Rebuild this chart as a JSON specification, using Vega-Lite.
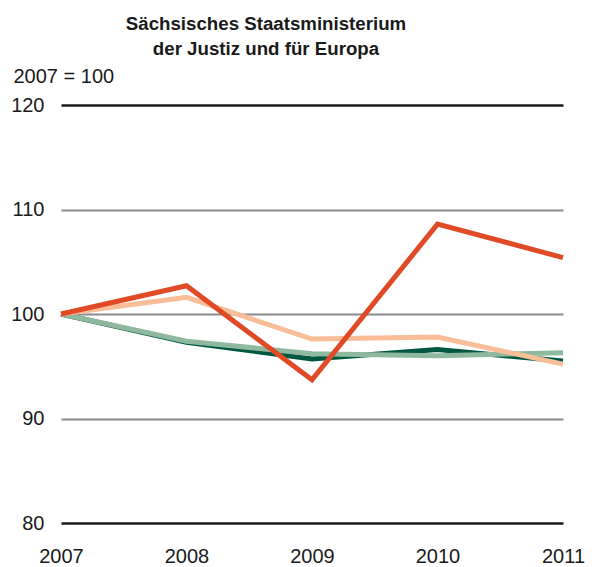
{
  "$schema": "https://vega.github.io/schema/vega-lite/v6.json",
  "width": 502,
  "height": 418,
  "autosize": {"type": "none"},
  "padding": {"left": 61, "top": 105, "right": 35, "bottom": 44},
  "background": "white",
  "config": {"view": {"stroke": null}, "font": "Liberation Sans"},
  "title": {
    "text": ["Sächsisches Staatsministerium", "der Justiz und für Europa"],
    "anchor": "middle",
    "frame": "group",
    "dx": -46,
    "offset": 7,
    "fontSize": 18.7,
    "fontWeight": "bold",
    "color": "#1a1a1a",
    "lineHeight": 25,
    "font": "Liberation Sans"
  },
  "data": {
    "values": [
      {"year": 2007, "series": "A", "value": 100},
      {"year": 2008, "series": "A", "value": 97.3},
      {"year": 2009, "series": "A", "value": 95.7},
      {"year": 2010, "series": "A", "value": 96.6},
      {"year": 2011, "series": "A", "value": 95.5},
      {"year": 2007, "series": "B", "value": 100},
      {"year": 2008, "series": "B", "value": 97.4},
      {"year": 2009, "series": "B", "value": 96.2},
      {"year": 2010, "series": "B", "value": 96.0},
      {"year": 2011, "series": "B", "value": 96.3},
      {"year": 2007, "series": "C", "value": 100},
      {"year": 2008, "series": "C", "value": 101.6},
      {"year": 2009, "series": "C", "value": 97.6},
      {"year": 2010, "series": "C", "value": 97.8},
      {"year": 2011, "series": "C", "value": 95.2},
      {"year": 2007, "series": "D", "value": 100},
      {"year": 2008, "series": "D", "value": 102.7},
      {"year": 2009, "series": "D", "value": 93.7},
      {"year": 2010, "series": "D", "value": 108.6},
      {"year": 2011, "series": "D", "value": 105.4}
    ]
  },
  "mark": {"type": "line", "strokeWidth": 5, "strokeJoin": "miter", "strokeCap": "butt"},
  "encoding": {
    "x": {
      "field": "year",
      "type": "quantitative",
      "scale": {"domain": [2007, 2011], "nice": false, "zero": false},
      "axis": {
        "values": [2007, 2008, 2009, 2010, 2011],
        "format": "d",
        "title": null,
        "grid": false,
        "domain": false,
        "ticks": false,
        "labelPadding": 23,
        "labelFontSize": 20,
        "labelColor": "#1a1a1a",
        "labelFont": "Liberation Sans",
        "labelFlush": false
      }
    },
    "y": {
      "field": "value",
      "type": "quantitative",
      "scale": {"domain": [80, 120], "nice": false, "zero": false},
      "axis": {
        "values": [80, 90, 100, 110, 120],
        "title": "2007 = 100",
        "titleAngle": 0,
        "titleAlign": "left",
        "titleBaseline": "alphabetic",
        "titleX": -48,
        "titleY": -23,
        "titleFontSize": 20,
        "titleFontWeight": "normal",
        "titleColor": "#1a1a1a",
        "titleFont": "Liberation Sans",
        "domain": false,
        "ticks": false,
        "labelPadding": 17,
        "labelFontSize": 20,
        "labelColor": "#1a1a1a",
        "labelFont": "Liberation Sans",
        "grid": true,
        "gridColor": {"condition": {"test": "datum.value == 80 || datum.value == 120", "value": "#1a1a1a"}, "value": "#8a8a8a"},
        "gridWidth": {"condition": {"test": "datum.value == 80 || datum.value == 120", "value": 2.5}, "value": 2},
        "gridOpacity": 1
      }
    },
    "color": {
      "field": "series",
      "type": "nominal",
      "scale": {"domain": ["A", "B", "C", "D"], "range": ["#00573f", "#8fb99f", "#f9be98", "#e04a27"]},
      "legend": null
    },
    "order": {"field": "series"}
  }
}
